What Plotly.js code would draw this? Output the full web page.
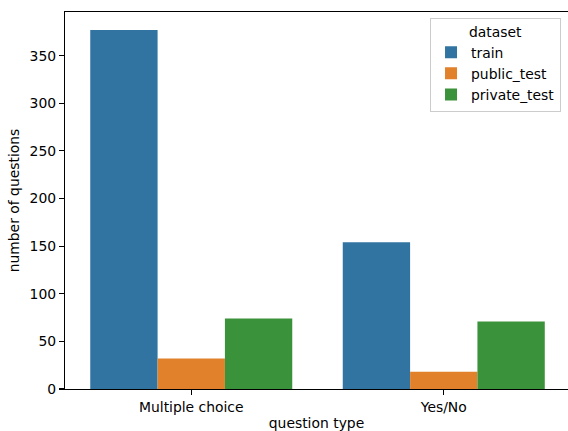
<!DOCTYPE html>
<html>
<head>
<meta charset="utf-8">
<script src="https://cdn.plot.ly/plotly-3.0.1.min.js"></script>
<style>html,body{margin:0;padding:0;background:#fff}#chart{width:568px;height:431px}</style>
</head>
<body>
<div id="chart"></div>
<script>
const categories = ["Multiple choice", "Yes/No"];
const seriesNames = ["train", "public_test", "private_test"];
const train = [377, 154];
const publicTest = [32, 18];
const privateTest = [74, 71];
const yTicks = [0, 50, 100, 150, 200, 250, 300, 350];

const colors = ["#3274a1", "#e1812c", "#3a923a"];
const values = [train, publicTest, privateTest];
const font = {family: "DejaVu Sans", size: 13.9, color: "#000"};

const traces = values.map((v, i) => ({
  type: "bar",
  name: seriesNames[i],
  x: [0, 1],
  y: v,
  marker: {color: colors[i], line: {width: 0}},
  hoverinfo: "skip"
}));

const layout = {
  width: 568, height: 431,
  margin: {l: 65, r: 0, t: 12, b: 42, pad: 0},
  paper_bgcolor: "#fff", plot_bgcolor: "#fff",
  font: font,
  barmode: "group", bargap: 0.2, bargroupgap: 0,
  showlegend: true,
  xaxis: {
    range: [-0.5, 1.492],
    tickvals: [0, 1], ticktext: categories,
    showgrid: false, zeroline: false,
    showline: true, linecolor: "#000", linewidth: 1.1, mirror: true,
    ticks: "outside", ticklen: 5, tickwidth: 1.1, tickcolor: "#000",
    tickfont: font,
    title: {text: "question type", font: font, standoff: 8},
    automargin: false
  },
  yaxis: {
    range: [0, 395.85],
    tickvals: yTicks,
    showgrid: false, zeroline: false,
    showline: true, linecolor: "#000", linewidth: 1.1, mirror: false,
    ticks: "outside", ticklen: 5, tickwidth: 1.1, tickcolor: "#000",
    tickfont: font,
    title: {text: "number of questions", font: font, standoff: 6},
    automargin: false
  },
  legend: {
    x: 0.7257, y: 0.985, xanchor: "left", yanchor: "top",
    bgcolor: "rgba(255,255,255,0.8)", bordercolor: "#cccccc", borderwidth: 1,
    font: font,
    title: {text: "dataset", font: font, side: "top center"},
    itemwidth: 30, tracegroupgap: 0
  }
};

Plotly.newPlot("chart", traces, layout, {staticPlot: true, displayModeBar: false});
</script>
</body>
</html>
